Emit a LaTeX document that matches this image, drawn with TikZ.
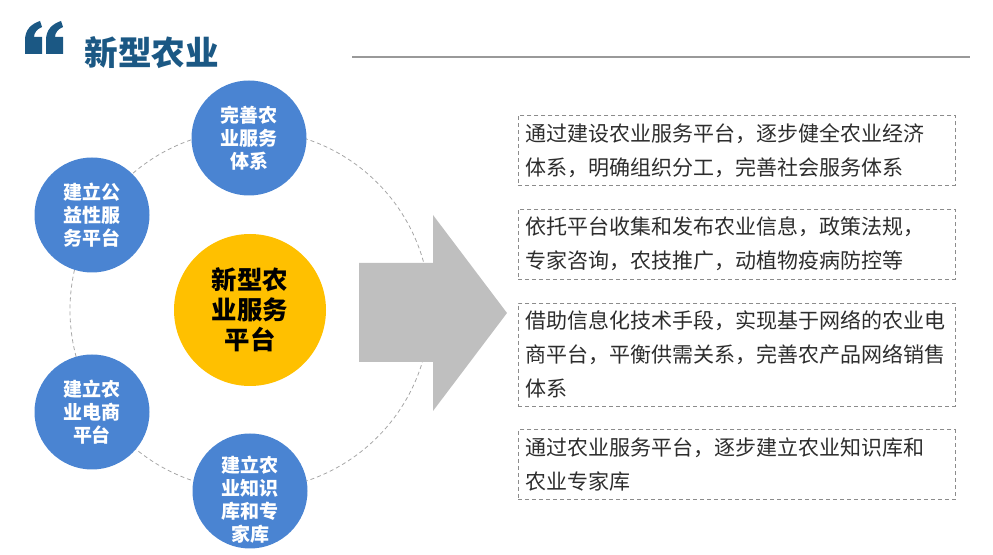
\documentclass[tikz,border=0pt]{standalone}
\usepackage{fontspec}
\newfontfamily\cjk{Noto Sans CJK SC}
\usepackage{xcolor}
\usetikzlibrary{positioning, calc}

\definecolor{titleblue}{RGB}{27,88,132}
\definecolor{circblue}{RGB}{74,132,210}
\definecolor{coreyellow}{RGB}{255,192,0}
\definecolor{arrowgray}{RGB}{191,191,191}
\definecolor{txtgray}{RGB}{45,45,45}

\begin{document}
\begin{tikzpicture}[
  x=0.5pt, y=-0.5pt,
  font=\cjk,
  itemtext/.style={text=white, align=center, font=\cjk\bfseries\fontsize{9.5}{11.5}\selectfont},
  item/.style={circle, fill=circblue, minimum size=57.5pt, inner sep=0pt, itemtext},
  core/.style={circle, fill=coreyellow, minimum size=76pt, inner sep=0pt, text=black,
    align=center, font=\cjk\bfseries\fontsize{12.7}{15}\selectfont},
  note/.style={draw=black!45, dash pattern=on 2pt off 1.5pt, line width=0.4pt,
    minimum width=218.5pt, minimum height=35pt, text width=211.5pt, inner xsep=3.5pt,
    align=left, text=txtgray, font=\cjk\fontsize{10.5}{17}\selectfont},
  ring/.style={draw=black!35, dash pattern=on 2pt off 1.5pt, line width=0.4pt},
]
\useasboundingbox (0,0) rectangle (993,555);

% title
\fill[titleblue] (25,54) -- (25,40) .. controls (25,30) and (31,24) .. (40,21)
  -- (42,27) .. controls (37,29) and (34,33) .. (34,37) -- (42,37) -- (42,54) -- cycle;
\fill[titleblue] (46,54) -- (46,40) .. controls (46,30) and (52,24) .. (61,21)
  -- (63,27) .. controls (58,29) and (55,33) .. (55,37) -- (63,37) -- (63,54) -- cycle;
\node[anchor=west, text=titleblue, font=\cjk\bfseries\fontsize{16.8}{18}\selectfont,
  inner sep=0pt] (title) at (84,53) {新型农业};
\coordinate (rulea) at (352,57);
\coordinate (ruleb) at (970,57);
\draw[black!40, line width=0.7pt] (rulea) -- (ruleb);

% circles
\node[core] (core) at (250,310) {新型农\\业服务\\平台};
\draw[ring] (core.center) circle[radius=90pt];
\node[item] (c1) at (249,138) {完善农\\业服务\\体系};
\node[item] (c2) at (92,215) {建立公\\益性服\\务平台};
\node[item] (c3) at (92,412) {建立农\\业电商\\平台};
\node[item, label={[itemtext, yshift=-4.5pt]center:建立农\\业知识\\库和专\\家库}]
  (c4) at (250,491) {};

% arrow
\fill[arrowgray] (359,263) -- (433,263) -- (433,215) -- (507,313) -- (433,411)
  -- (433,362) -- (359,362) -- cycle;

% notes
\node[note, anchor=north west] (n1) at (518,115)
  {通过建设农业服务平台，逐步健全农业经济\\体系，明确组织分工，完善社会服务体系};
\node[note, below=11.5pt of n1] (n2)
  {依托平台收集和发布农业信息，政策法规，\\专家咨询，农技推广，动植物疫病防控等};
\node[note, below=11.5pt of n2, minimum height=51.5pt] (n3)
  {借助信息化技术手段，实现基于网络的农业电\\商平台，平衡供需关系，完善农产品网络销售\\体系};
\node[note, below=11.5pt of n3] (n4)
  {通过农业服务平台，逐步建立农业知识库和\\农业专家库};
\end{tikzpicture}
\end{document}
